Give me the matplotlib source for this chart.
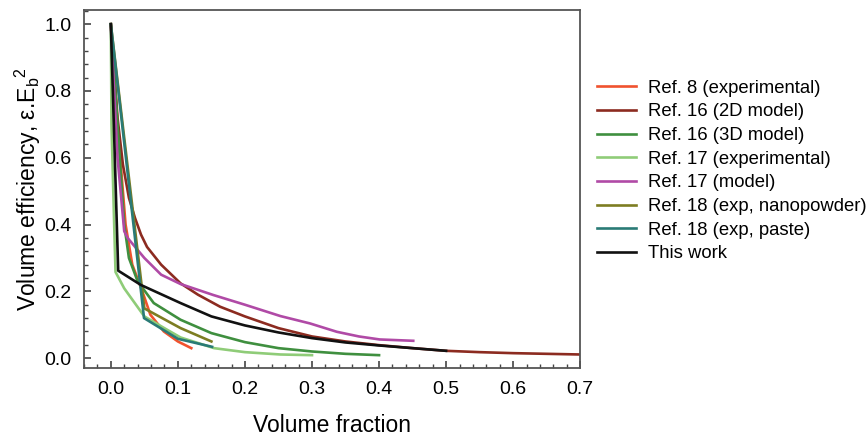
import matplotlib
matplotlib.use('Agg')
import matplotlib.pyplot as plt
from matplotlib.ticker import MultipleLocator

plt.rcParams['font.family'] = ['Liberation Sans', 'DejaVu Sans']
plt.rcParams['mathtext.fontset'] = 'custom'
plt.rcParams['mathtext.rm'] = 'Liberation Sans'
plt.rcParams['mathtext.it'] = 'Liberation Sans'

# data
ref8_x = [0.0, 0.01, 0.022, 0.032, 0.047, 0.059, 0.079, 0.1, 0.12]
ref8_y = [1.0, 0.70, 0.40, 0.28, 0.20, 0.13, 0.08, 0.05, 0.03]

ref16_2d_x = [0.0, 0.01, 0.018, 0.027, 0.036, 0.045, 0.054, 0.075, 0.104, 0.13, 0.163, 0.2,
              0.25, 0.3, 0.35, 0.4, 0.45, 0.5, 0.55, 0.6, 0.65, 0.7]
ref16_2d_y = [1.0, 0.72, 0.58, 0.48, 0.42, 0.37, 0.333, 0.28, 0.224, 0.19, 0.154, 0.125,
              0.09, 0.065, 0.05, 0.039, 0.03, 0.022, 0.018, 0.015, 0.013, 0.011]

ref16_3d_x = [0.0, 0.01, 0.02, 0.027, 0.04, 0.064, 0.104, 0.15, 0.2, 0.25, 0.3, 0.35, 0.4]
ref16_3d_y = [1.0, 0.70, 0.40, 0.30, 0.23, 0.165, 0.115, 0.075, 0.048, 0.03, 0.02, 0.013, 0.009]

ref17_exp_x = [0.0, 0.001, 0.005, 0.007, 0.02, 0.05, 0.084, 0.104, 0.154, 0.2, 0.253, 0.3]
ref17_exp_y = [1.0, 0.70, 0.40, 0.258, 0.209, 0.125, 0.085, 0.062, 0.03, 0.018, 0.011, 0.009]

ref17_mod_x = [0.0, 0.01, 0.02, 0.025, 0.05, 0.075, 0.104, 0.153, 0.2, 0.253, 0.297,
               0.337, 0.37, 0.401, 0.451]
ref17_mod_y = [1.0, 0.60, 0.38, 0.36, 0.30, 0.25, 0.222, 0.189, 0.16, 0.126, 0.104,
               0.079, 0.065, 0.056, 0.052]

ref18_nano_x = [0.0, 0.05, 0.104, 0.15]
ref18_nano_y = [1.0, 0.149, 0.09, 0.05]

ref18_paste_x = [0.0, 0.0495, 0.1, 0.151]
ref18_paste_y = [1.0, 0.12, 0.058, 0.034]

this_work_x = [0.0, 0.011, 0.045, 0.104, 0.15, 0.2, 0.25, 0.3, 0.35, 0.4, 0.45, 0.5]
this_work_y = [1.0, 0.262, 0.219, 0.165, 0.125, 0.098, 0.077, 0.06, 0.047, 0.038, 0.03, 0.022]

series = [
    ('Ref. 8 (experimental)', ref8_x, ref8_y, '#f0522e'),
    ('Ref. 16 (2D model)', ref16_2d_x, ref16_2d_y, '#8c2b20'),
    ('Ref. 16 (3D model)', ref16_3d_x, ref16_3d_y, '#3f8f3f'),
    ('Ref. 17 (experimental)', ref17_exp_x, ref17_exp_y, '#8fcc78'),
    ('Ref. 17 (model)', ref17_mod_x, ref17_mod_y, '#b04aa6'),
    ('Ref. 18 (exp, nanopowder)', ref18_nano_x, ref18_nano_y, '#7d7d22'),
    ('Ref. 18 (exp, paste)', ref18_paste_x, ref18_paste_y, '#2a7b76'),
    ('This work', this_work_x, this_work_y, '#111111'),
]

fig = plt.figure(figsize=(8.66, 4.42), dpi=100)
ax = fig.add_axes([0.097, 0.167, 0.573, 0.81])

for label, xs, ys, col in series:
    ax.plot(xs, ys, color=col, lw=1.9, label=label)

ax.set_xlim(-0.04, 0.70)
ax.set_ylim(-0.03, 1.042)
ax.xaxis.set_major_locator(MultipleLocator(0.1))
ax.xaxis.set_minor_locator(MultipleLocator(0.02))
ax.yaxis.set_major_locator(MultipleLocator(0.2))
ax.yaxis.set_minor_locator(MultipleLocator(0.04))
ax.tick_params(which='both', direction='in', top=False, right=False,
               color='#444444', labelsize=14, pad=9)
ax.tick_params(which='major', length=5, width=1.2)
ax.tick_params(which='minor', length=3, width=1.0)
for sp in ax.spines.values():
    sp.set_color('#555555')
    sp.set_linewidth(1.3)

ax.set_xlabel('Volume fraction', fontsize=16.5, labelpad=12)
ax.set_ylabel('Volume efficiency, \u03b5.E$_\\mathrm{b}$$^\\mathrm{2}$', fontsize=16.5, labelpad=1)

fig.legend(loc='upper left', bbox_to_anchor=(0.670, 0.857), frameon=False,
           fontsize=13.3, handlelength=2.1, labelspacing=0.36, handletextpad=0.65)

fig.savefig('out.png', dpi=100)
